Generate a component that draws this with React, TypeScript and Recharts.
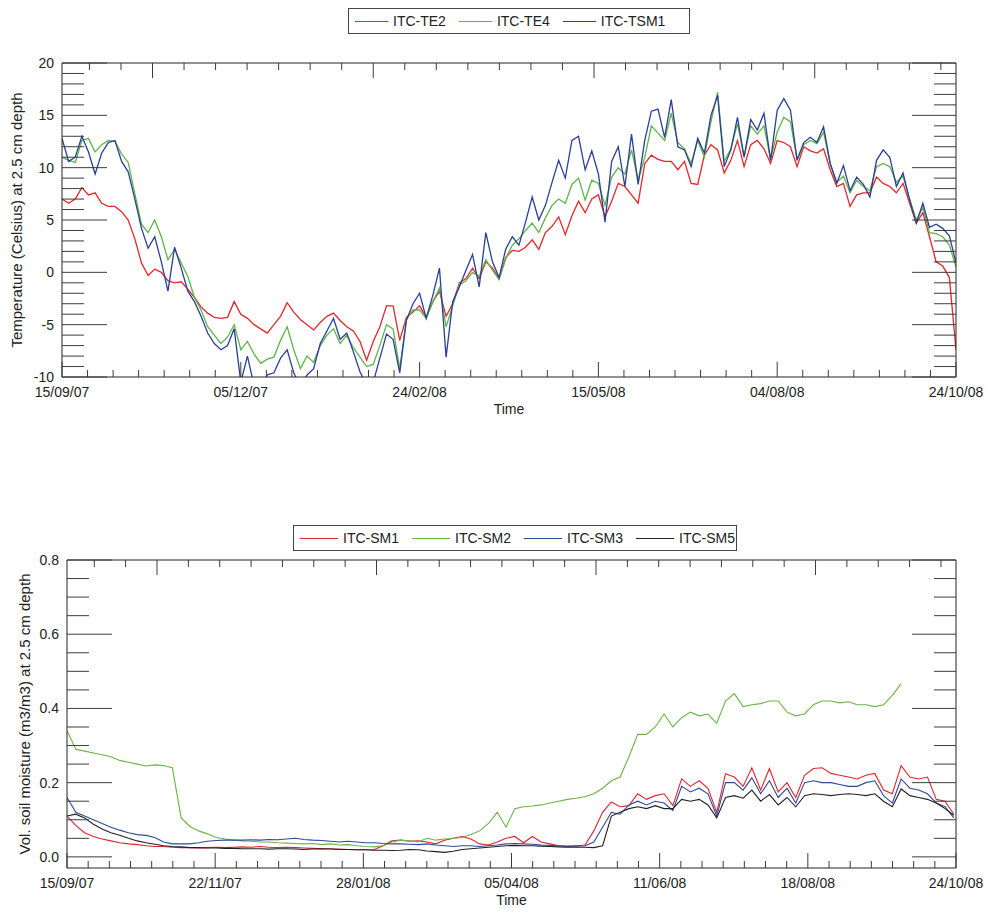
import React from "react";
import { Label, Line, LineChart, XAxis, YAxis } from "recharts";

const FONT = '"Liberation Sans", Arial, Helvetica, sans-serif';
const INK = "#222";
const TICK = "#3c3c3c";

// ---- top panel: soil temperature at 2.5 cm, days since 15/09/07 ----
const tempDays = [
  0, 3, 6, 9, 12, 15, 18, 21, 24, 27, 30, 33, 36, 39, 42, 45, 48, 51, 54, 57,
  60, 63, 66, 69, 72, 75, 78, 81, 84, 87, 90, 93, 96, 99, 102, 105, 108, 111, 114, 117,
  120, 123, 126, 129, 132, 135, 138, 141, 144, 147, 150, 153, 156, 159, 162, 165, 168, 171, 174, 177,
  180, 183, 186, 189, 192, 195, 198, 201, 204, 207, 210, 213, 216, 219, 222, 225, 228, 231, 234, 237,
  240, 243, 246, 249, 252, 255, 258, 261, 264, 267, 270, 273, 276, 279, 282, 285, 288, 291, 294, 297,
  300, 303, 306, 309, 312, 315, 318, 321, 324, 327, 330, 333, 336, 339, 342, 345, 348, 351, 354, 357,
  360, 363, 366, 369, 372, 375, 378, 381, 384, 387, 390, 393, 396, 399, 402, 405,
];

const te2 = [
  7.0, 6.6, 7.0, 8.1, 7.4, 7.6, 6.6, 6.3, 6.3, 5.8, 5.0, 3.2, 0.9, -0.3, 0.3, 0.0, -0.8, -1.0, -0.9, -1.6,
  -2.4, -3.3, -3.9, -4.3, -4.4, -4.3, -2.8, -4.0, -4.4, -5.0, -5.4, -5.8, -5.0, -4.2, -2.9, -3.8, -4.5, -5.0, -5.5, -4.8,
  -4.2, -3.9, -4.6, -5.2, -5.6, -6.6, -8.4, -6.6, -5.2, -3.2, -3.2, -6.5, -4.3, -3.8, -3.2, -4.3, -2.8, -1.8, -4.2, -3.0,
  -1.0, -0.6, 0.4, -0.6, 1.0, 0.4, -0.6, 1.4, 2.1, 2.0, 2.4, 3.1, 2.2, 3.8, 4.4, 5.3, 3.6, 5.4, 6.8, 5.7,
  7.0, 7.4, 5.3, 6.8, 8.5, 8.2, 7.4, 6.6, 10.4, 11.2, 10.8, 10.6, 10.6, 9.8, 10.6, 8.5, 8.4, 11.2, 12.2, 11.7,
  9.5, 10.7, 12.6, 10.1, 12.2, 12.6, 11.8, 10.4, 12.6, 12.4, 12.0, 10.1, 12.0, 11.6, 11.4, 11.8, 9.8, 8.2, 8.5, 6.3,
  7.4, 7.6, 7.6, 9.1, 8.5, 8.2, 7.6, 8.5, 6.6, 4.7, 5.7, 3.4, 1.0, 0.6, -0.5, -7.4,
];

const te4 = [
  11.0, 10.7, 10.5, 12.6, 12.8, 11.5, 12.2, 12.6, 12.5, 11.3, 10.5, 7.5, 4.6, 3.8, 5.0, 3.4, 1.2, 2.2, 0.9, -0.4,
  -2.4, -3.6, -5.2, -6.0, -6.8, -6.2, -5.0, -7.4, -6.6, -7.8, -8.7, -8.3, -8.1, -6.5, -5.2, -7.4, -9.2, -8.0, -8.6, -7.0,
  -6.0, -5.4, -6.8, -6.0, -7.2, -8.1, -9.0, -8.8, -7.0, -5.0, -5.4, -9.2, -4.5, -3.6, -3.6, -4.4, -2.8, -1.5, -5.2, -3.2,
  -1.2, -0.8, 0.0, -0.4, 1.2, 0.2, -0.7, 1.3, 2.6, 3.2, 4.0, 4.7, 3.8, 5.2, 6.4, 7.0, 6.6, 8.4, 9.0, 6.9,
  8.8, 8.5, 6.4, 9.1, 10.0, 9.4, 11.7, 8.8, 11.0, 14.0, 13.3, 12.6, 15.2, 12.4, 11.8, 10.4, 12.6, 11.0, 14.4, 17.2,
  10.6, 11.8, 14.2, 11.0, 14.0, 13.2, 14.0, 10.8, 13.4, 14.8, 14.4, 10.8, 12.2, 12.6, 12.3, 13.4, 10.4, 8.6, 9.2, 7.6,
  8.8, 8.2, 7.8, 10.1, 10.4, 10.1, 8.6, 9.2, 7.0, 5.0, 6.2, 3.8, 3.7, 3.4, 2.6, 0.5,
];

const tsm1 = [
  12.8, 10.6, 11.0, 13.0, 11.5, 9.4, 11.4, 12.4, 12.6, 10.6, 9.6, 7.0, 4.2, 2.3, 3.4, 1.0, -1.8, 2.4, 0.4, -1.8,
  -2.8, -4.2, -5.8, -6.8, -7.4, -7.0, -5.4, -10.5, -8.0, -10.8, -11.0, -9.8, -9.6, -8.2, -7.4, -9.6, -11.0, -9.8, -9.2, -6.8,
  -5.6, -4.4, -6.4, -5.8, -7.6, -9.5, -10.8, -10.5, -8.2, -5.9, -6.4, -9.6, -4.6, -3.0, -2.0, -4.4, -2.2, 0.4, -8.1, -2.8,
  -1.4, 0.2, 1.7, -1.4, 3.8, 1.0, -0.5, 2.2, 3.4, 2.6, 4.8, 7.2, 5.0, 6.4, 8.6, 10.7, 9.0, 12.6, 13.0, 9.8,
  11.6, 9.4, 4.8, 10.6, 12.0, 8.2, 13.2, 8.4, 12.6, 15.4, 15.6, 12.9, 16.5, 12.0, 11.7, 10.1, 12.8, 11.4, 15.0, 16.9,
  10.1, 11.7, 14.8, 11.0, 14.6, 13.6, 15.2, 10.7, 15.5, 16.6, 15.5, 10.7, 12.4, 12.9, 12.4, 13.9, 10.4, 8.5, 10.2, 7.8,
  9.1, 8.4, 7.2, 10.7, 11.7, 11.0, 8.2, 9.5, 6.9, 4.7, 6.6, 4.3, 4.6, 4.2, 3.5, 0.9,
];

const tempTickDays = [0, 81, 162, 243, 324, 405];
const tempTickLabels = ["15/09/07", "05/12/07", "24/02/08", "15/05/08", "04/08/08", "24/10/08"];
const tempYLabels = [-10, -5, 0, 5, 10, 15, 20];

// ---- bottom panel: volumetric soil moisture at 2.5 cm ----
const smDays = [
  0, 4, 8, 12, 16, 20, 24, 28, 32, 36, 40, 44, 48, 52, 56, 60, 64, 68, 72, 76,
  80, 84, 88, 92, 96, 100, 104, 108, 112, 116, 120, 124, 128, 132, 136, 140, 144, 148, 152, 156,
  160, 164, 168, 172, 176, 180, 184, 188, 192, 196, 200, 204, 208, 212, 216, 220, 224, 228, 232, 236,
  240, 244, 248, 252, 256, 260, 264, 268, 272, 276, 280, 284, 288, 292, 296, 300, 304, 308, 312, 316,
  320, 324, 328, 332, 336, 340, 344, 348, 352, 356, 360, 364, 368, 372, 376, 380, 384, 388, 392, 396,
  400, 404,
];

const sm1 = [
  0.11, 0.085, 0.065, 0.055, 0.048, 0.043, 0.038, 0.035, 0.033, 0.03,
  0.028, 0.028, 0.026, 0.025, 0.025, 0.024, 0.025, 0.026, 0.025, 0.026,
  0.027, 0.026, 0.028, 0.026, 0.025, 0.026, 0.025, 0.024, 0.023, 0.022,
  0.022, 0.021, 0.02, 0.019, 0.019, 0.02, 0.03, 0.043, 0.045, 0.042,
  0.043, 0.04, 0.035, 0.045, 0.05, 0.055, 0.048, 0.035, 0.032, 0.04,
  0.05, 0.055, 0.038, 0.055, 0.04, 0.035, 0.03, 0.028, 0.03, 0.032,
  0.07, 0.12, 0.148, 0.135, 0.138, 0.17, 0.155, 0.165, 0.17, 0.138,
  0.21, 0.19, 0.205, 0.185, 0.12, 0.224, 0.215, 0.19, 0.24, 0.18,
  0.238, 0.175, 0.2, 0.16, 0.22, 0.238, 0.24, 0.225, 0.22, 0.215,
  0.21, 0.22, 0.225, 0.18, 0.17, 0.246, 0.215, 0.21, 0.215, 0.155,
  0.15, 0.115,
];

const sm2 = [
  0.34, 0.29, 0.285, 0.28, 0.275, 0.27, 0.26, 0.255, 0.25, 0.245,
  0.248, 0.246, 0.24, 0.105, 0.082, 0.07, 0.062, 0.052, 0.048, 0.045,
  0.043, 0.042, 0.04, 0.04, 0.038, 0.037, 0.036, 0.035, 0.036, 0.033,
  0.035, 0.032, 0.033, 0.03, 0.028, 0.027, 0.03, 0.04, 0.045, 0.043,
  0.04, 0.05, 0.045, 0.048, 0.05, 0.052, 0.06, 0.07, 0.09, 0.12,
  0.08, 0.13, 0.135, 0.137, 0.14, 0.145, 0.15, 0.155, 0.158, 0.162,
  0.17, 0.185, 0.205, 0.215, 0.27, 0.33, 0.33, 0.35, 0.385, 0.35,
  0.375, 0.39, 0.38, 0.385, 0.36, 0.42, 0.44, 0.405, 0.41, 0.413,
  0.42, 0.42, 0.39, 0.38, 0.385, 0.41, 0.42, 0.42, 0.415, 0.418,
  0.41, 0.41, 0.405, 0.41, 0.435, 0.467, null, null, null, null,
  null, null,
];

const sm3 = [
  0.16, 0.12, 0.11, 0.1, 0.09, 0.08, 0.072, 0.065, 0.06, 0.058,
  0.052, 0.04, 0.035, 0.035, 0.035, 0.038, 0.042, 0.044, 0.045, 0.045,
  0.045, 0.046, 0.045, 0.047, 0.046, 0.048, 0.05, 0.047, 0.045, 0.044,
  0.042, 0.04, 0.042, 0.04, 0.038, 0.038, 0.036, 0.035, 0.035, 0.034,
  0.033, 0.035, 0.032, 0.03, 0.028, 0.03, 0.03, 0.028, 0.03, 0.032,
  0.035, 0.036, 0.035, 0.034, 0.032, 0.031, 0.03, 0.029, 0.029, 0.03,
  0.04, 0.08, 0.12, 0.115, 0.14, 0.15, 0.14, 0.15, 0.145, 0.125,
  0.19, 0.175, 0.185, 0.17, 0.11, 0.2, 0.2, 0.18, 0.213, 0.17,
  0.205, 0.16, 0.185, 0.145, 0.2, 0.205, 0.2, 0.2, 0.195, 0.19,
  0.19, 0.2, 0.205, 0.165, 0.145, 0.21, 0.185, 0.18, 0.17, 0.145,
  0.135, 0.105,
];

const sm5 = [
  0.11, 0.115, 0.105, 0.088, 0.075, 0.065, 0.058, 0.05, 0.043, 0.038,
  0.034, 0.03, 0.028, 0.027, 0.025, 0.025, 0.024, 0.024, 0.023, 0.023,
  0.022, 0.022, 0.022, 0.021, 0.022, 0.022, 0.021, 0.02, 0.021, 0.022,
  0.021, 0.02, 0.02, 0.019, 0.019, 0.018, 0.018, 0.017, 0.018, 0.02,
  0.019, 0.016, 0.014, 0.012, 0.015, 0.02, 0.022, 0.024, 0.026, 0.028,
  0.03, 0.031, 0.03, 0.03, 0.029, 0.028, 0.027, 0.026, 0.026, 0.026,
  0.025, 0.03, 0.11, 0.12, 0.13, 0.135, 0.13, 0.138, 0.13, 0.13,
  0.155, 0.15, 0.155, 0.14, 0.105, 0.16, 0.165, 0.158, 0.18, 0.15,
  0.168, 0.14, 0.16, 0.135, 0.165, 0.17, 0.168, 0.165, 0.168, 0.17,
  0.168, 0.165, 0.17, 0.15, 0.135, 0.183, 0.165, 0.16, 0.155, 0.145,
  0.13, 0.112,
];

const smTickDays = [0, 67.5, 135, 202.5, 270, 337.5, 405];
const smTickLabels = ["15/09/07", "22/11/07", "28/01/08", "05/04/08", "11/06/08", "18/08/08", "24/10/08"];
const smYLabels = [0, 0.2, 0.4, 0.6, 0.8];

// second (top-edge) time axis: a long tick every 100 days
const edgeMajorDays = [41, 141, 241, 341];

const tempSeries = [
  { key: "te2", name: "ITC-TE2", color: "#e5262b" },
  { key: "te4", name: "ITC-TE4", color: "#5db548" },
  { key: "tsm1", name: "ITC-TSM1", color: "#2a3f98" },
];

const smSeries = [
  { key: "sm1", name: "ITC-SM1", color: "#e3232e" },
  { key: "sm2", name: "ITC-SM2", color: "#6cb345" },
  { key: "sm3", name: "ITC-SM3", color: "#2e4a9c" },
  { key: "sm5", name: "ITC-SM5", color: "#222222" },
];

const tempRows = tempDays.map((day, i) => ({ day, te2: te2[i], te4: te4[i], tsm1: tsm1[i] }));
const smRows = smDays.map((day, i) => ({ day, sm1: sm1[i], sm2: sm2[i], sm3: sm3[i], sm5: sm5[i] }));

function subdivide(majors: number[], parts: number) {
  const out: number[] = [];
  for (let i = 0; i < majors.length - 1; i++) {
    const step = (majors[i + 1] - majors[i]) / parts;
    for (let k = 0; k < parts; k++) out.push(majors[i] + k * step);
  }
  out.push(majors[majors.length - 1]);
  return out;
}

function edgeTicks(majors: number[], parts: number, max: number) {
  const step = (majors[1] - majors[0]) / parts;
  const out: number[] = [];
  for (let v = majors[0] - Math.floor(majors[0] / step) * step; v < max; v += step) out.push(v);
  return out;
}

function isMajor(v: number, majors: number[]) {
  return majors.some((m) => Math.abs(m - v) < 1e-6);
}

const textProps = { fontFamily: FONT, fontSize: 14, fill: INK };

const bottomTick = (majors: number[], labels: string[]) => (p: any) => {
  const i = majors.indexOf(p.payload.value);
  return (
    <g>
      <line x1={p.x} x2={p.x} y1={p.y} y2={p.y - (i >= 0 ? 15 : 7)} stroke={TICK} />
      {i >= 0 && (
        <text x={p.x} y={p.y + 20} textAnchor="middle" {...textProps}>
          {labels[i]}
        </text>
      )}
    </g>
  );
};

const topTick = (p: any) => {
  const long = isMajor(p.payload.value, edgeMajorDays);
  return <line x1={p.x} x2={p.x} y1={p.y} y2={p.y + (long ? 15 : 7)} stroke={TICK} />;
};

const leftTick = (labels: number[], fmt: (v: number) => string) => (p: any) => {
  const long = isMajor(p.payload.value, labels);
  return (
    <g>
      <line x1={p.x} x2={p.x + (long ? 45 : 22)} y1={p.y} y2={p.y} stroke={TICK} />
      {long && (
        <text x={p.x - 8} y={p.y + 5} textAnchor="end" {...textProps}>
          {fmt(p.payload.value)}
        </text>
      )}
    </g>
  );
};

const rightTick = (labels: number[]) => (p: any) => {
  const long = isMajor(p.payload.value, labels);
  return <line x1={p.x} x2={p.x - (long ? 44 : 22)} y1={p.y} y2={p.y} stroke={TICK} />;
};

function LegendBox({ items, left, top, width, lineWidth }: any) {
  return (
    <div
      style={{
        position: "absolute",
        left,
        top,
        width,
        height: 26,
        boxSizing: "border-box",
        border: "1px solid #444",
        background: "#fff",
        display: "flex",
        alignItems: "center",
        paddingLeft: 6,
        fontFamily: FONT,
        fontSize: 14,
        color: INK,
        whiteSpace: "nowrap",
      }}
    >
      {items.map((s: any) => (
        <div key={s.key} style={{ display: "flex", alignItems: "center", marginRight: 13, flexShrink: 0 }}>
          <div
            style={{ width: lineWidth, height: 1, background: s.color, marginRight: 5, flexShrink: 0 }}
          />
          <span>{s.name}</span>
        </div>
      ))}
    </div>
  );
}

const tempYTicks = subdivide(tempYLabels, 5);
const smYTicks = subdivide(smYLabels, 4);
const titleStyle = { textAnchor: "middle", fontFamily: FONT, fontSize: 15, fill: INK } as any;

export default function App() {
  return (
    <div style={{ position: "absolute", left: 0, top: 0, width: 986, height: 912, background: "#fff" }}>
      <div style={{ position: "absolute", left: 0, top: 0 }}>
        <LineChart width={986} height={430} data={tempRows} margin={{ top: 62, right: 29, bottom: 23, left: 12 }}>
          <XAxis
            dataKey="day"
            type="number"
            domain={[0, 405]}
            allowDataOverflow
            ticks={subdivide(tempTickDays, 7)}
            interval={0}
            tickSize={0}
            tickMargin={0}
            tickLine={false}
            tick={bottomTick(tempTickDays, tempTickLabels)}
            height={30}
            axisLine={{ stroke: INK }}
          >
            <Label value="Time" position="bottom" offset={-3} style={{ fontFamily: FONT, fontSize: 14, fill: INK }} />
          </XAxis>
          <XAxis
            xAxisId="top"
            orientation="top"
            dataKey="day"
            type="number"
            domain={[0, 405]}
            allowDataOverflow
            ticks={edgeTicks(edgeMajorDays, 7, 405)}
            interval={0}
            tickSize={0}
            tickMargin={0}
            tickLine={false}
            tick={topTick}
            height={1}
            axisLine={{ stroke: INK }}
          />
          <YAxis
            type="number"
            domain={[-10, 20]}
            allowDataOverflow
            ticks={tempYTicks}
            interval={0}
            tickSize={0}
            tickMargin={0}
            tickLine={false}
            tick={leftTick(tempYLabels, (v) => String(v))}
            width={50}
            axisLine={{ stroke: INK }}
          >
            <Label
              value="Temperature (Celsius) at 2.5 cm depth"
              angle={-90}
              position="insideLeft"
              offset={5}
              style={titleStyle}
            />
          </YAxis>
          <YAxis
            yAxisId="right"
            orientation="right"
            type="number"
            domain={[-10, 20]}
            allowDataOverflow
            ticks={tempYTicks}
            interval={0}
            tickSize={0}
            tickMargin={0}
            tickLine={false}
            tick={rightTick(tempYLabels)}
            width={1}
            axisLine={{ stroke: INK }}
          />
          {tempSeries.map((s) => (
            <Line
              key={s.key}
              dataKey={s.key}
              name={s.name}
              stroke={s.color}
              strokeWidth={1.3}
              dot={false}
              activeDot={false}
              isAnimationActive={false}
            />
          ))}
        </LineChart>
      </div>

      <div style={{ position: "absolute", left: 0, top: 520 }}>
        <LineChart width={986} height={392} data={smRows} margin={{ top: 39, right: 29, bottom: 14, left: 17 }}>
          <XAxis
            dataKey="day"
            type="number"
            domain={[0, 405]}
            allowDataOverflow
            ticks={subdivide(smTickDays, 7)}
            interval={0}
            tickSize={0}
            tickMargin={0}
            tickLine={false}
            tick={bottomTick(smTickDays, smTickLabels)}
            height={30}
            axisLine={{ stroke: INK }}
          >
            <Label value="Time" position="bottom" offset={-3} style={{ fontFamily: FONT, fontSize: 14, fill: INK }} />
          </XAxis>
          <XAxis
            xAxisId="top"
            orientation="top"
            dataKey="day"
            type="number"
            domain={[0, 405]}
            allowDataOverflow
            ticks={edgeTicks(edgeMajorDays, 7, 405)}
            interval={0}
            tickSize={0}
            tickMargin={0}
            tickLine={false}
            tick={topTick}
            height={1}
            axisLine={{ stroke: INK }}
          />
          <YAxis
            type="number"
            domain={[-0.03, 0.8]}
            allowDataOverflow
            ticks={smYTicks}
            interval={0}
            tickSize={0}
            tickMargin={0}
            tickLine={false}
            tick={leftTick(smYLabels, (v) => v.toFixed(1))}
            width={50}
            axisLine={{ stroke: INK }}
          >
            <Label
              value="Vol. soil moisture (m3/m3) at 2.5 cm depth"
              angle={-90}
              position="insideLeft"
              offset={8}
              style={titleStyle}
            />
          </YAxis>
          <YAxis
            yAxisId="right"
            orientation="right"
            type="number"
            domain={[-0.03, 0.8]}
            allowDataOverflow
            ticks={smYTicks}
            interval={0}
            tickSize={0}
            tickMargin={0}
            tickLine={false}
            tick={rightTick(smYLabels)}
            width={1}
            axisLine={{ stroke: INK }}
          />
          {smSeries.map((s) => (
            <Line
              key={s.key}
              dataKey={s.key}
              name={s.name}
              stroke={s.color}
              strokeWidth={1.1}
              dot={false}
              activeDot={false}
              isAnimationActive={false}
            />
          ))}
        </LineChart>
      </div>

      <LegendBox items={tempSeries} left={348} top={8} width={342} lineWidth={33} />
      <LegendBox items={smSeries} left={293} top={525} width={444} lineWidth={38} />
    </div>
  );
}
